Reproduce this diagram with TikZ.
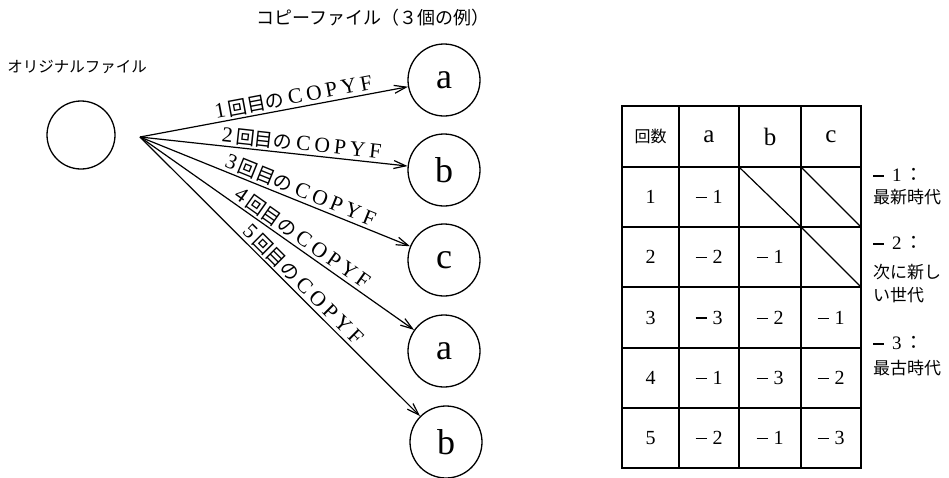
\documentclass[tikz,border=0pt]{standalone}
\usepackage{fontspec}
\setmainfont{Liberation Serif}
\newfontfamily\jp{Noto Sans CJK JP}
\usetikzlibrary{arrows.meta}

% label of one copy run: "n回目のCOPYF"
\newcommand\copylabel[1]{#1\hspace{3pt}{\jp\fontsize{19}{19}\selectfont 回目の}\hspace{4pt}C\hspace{4pt}O\hspace{4pt}P\hspace{4pt}Y\hspace{4pt}F}
% generation value such as "－1"
\newcommand\gen[1]{\rule[5.5pt]{11pt}{1.1pt}\hspace{6pt}#1}

\begin{document}
\begin{tikzpicture}[x=1pt,y=-1pt,
  file/.style={draw, circle, line width=1.3pt, minimum size=72pt, inner sep=0pt,
    font=\fontsize{36}{36}\selectfont},
  copyarrow/.style={line width=1.2pt, -{Straight Barb[length=12pt,width=8pt,line width=1.2pt]}},
  runlbl/.style={sloped, above, inner sep=2pt, font=\fontsize{21.5}{21.5}\selectfont},
  caption/.style={inner sep=0pt, font=\jp},
  tbl/.style={line width=1.5pt},
  cell/.style={inner sep=0pt, font=\fontsize{20}{20}\selectfont},
  head/.style={inner sep=0pt, font=\fontsize{25}{25}\selectfont},
  note/.style={anchor=west, inner sep=0pt, font=\fontsize{19}{19}\selectfont},
  notejp/.style={anchor=west, inner sep=0pt, font=\jp\fontsize{17}{17}\selectfont}
]
\useasboundingbox (0,0) rectangle (949,477);

% captions
\node[caption, font=\jp\fontsize{18}{18}\selectfont] (copycap) at (373,18) {コピーファイル（３個の例）};
\node[caption, font=\jp\fontsize{15.5}{15.5}\selectfont] (origcap) at (77,67) {オリジナルファイル};

% original and copy files
\node[file, minimum size=68pt] (orig) at (81,135) {};
\coordinate (src) at (140,137);
\node[file] (a1) at (444,80) {a};
\node[file] (b1) at (444,170) {b};
\node[file] (c1) at (444,260) {c};
\node[file] (a2) at (444,351) {a};
\node[file] (b2) at (446,442) {b};

% copy runs
\draw[copyarrow] (src) -- node[runlbl, pos=0.58] {\copylabel{1}} (a1);
\draw[copyarrow] (src) -- node[runlbl, pos=0.60] {\copylabel{2}} (b1);
\draw[copyarrow] (src) -- node[runlbl, pos=0.58] {\copylabel{3}} (c1);
\draw[copyarrow] (src) -- node[runlbl, pos=0.57] {\copylabel{4}} (a2);
\draw[copyarrow] (src) -- node[runlbl, pos=0.555] {\copylabel{5}} (b2);

% generation table
\draw[tbl] (622,106) rectangle (861,468);
\foreach \x in {679,739,801} \draw[tbl] (\x,106) -- (\x,468);
\foreach \y in {167,227,287,348,408} \draw[tbl] (622,\y) -- (861,\y);
\draw[line width=1.2pt] (739,167) -- (801,227);
\draw[line width=1.2pt] (801,167) -- (861,227);
\draw[line width=1.2pt] (801,227) -- (861,287);

\node[cell, font=\jp\fontsize{16}{16}\selectfont] (h0) at (650.5,136.5) {回数};
\node[head] (ha) at (709,136.5) {a};
\node[head] (hb) at (770,136.5) {b};
\node[head] (hc) at (831,136.5) {c};

\node[cell] (r1) at (650.5,197) {1};
\node[cell] (r1a) at (709,197) {\gen{1}};

\node[cell] (r2) at (650.5,257) {2};
\node[cell] (r2a) at (709,257) {\gen{2}};
\node[cell] (r2b) at (770,257) {\gen{1}};

\node[cell] (r3) at (650.5,317.5) {3};
\node[cell] (r3a) at (709,317.5) {\gen{3}};
\node[cell] (r3b) at (770,317.5) {\gen{2}};
\node[cell] (r3c) at (831,317.5) {\gen{1}};

\node[cell] (r4) at (650.5,378) {4};
\node[cell] (r4a) at (709,378) {\gen{1}};
\node[cell] (r4b) at (770,378) {\gen{3}};
\node[cell] (r4c) at (831,378) {\gen{2}};

\node[cell] (r5) at (650.5,438) {5};
\node[cell] (r5a) at (709,438) {\gen{2}};
\node[cell] (r5b) at (770,438) {\gen{1}};
\node[cell] (r5c) at (831,438) {\gen{3}};

% legend of generation values
\node[note] (n1) at (873,175) {\rule[5pt]{11pt}{1.1pt}\hspace{8pt}1\hspace{3pt}{\jp ：}};
\node[notejp] (n1t) at (873,197) {最新時代};
\node[note] (n2) at (873,243) {\rule[5pt]{11pt}{1.1pt}\hspace{8pt}2\hspace{3pt}{\jp ：}};
\node[notejp] (n2t) at (873,272) {次に新し};
\node[notejp] (n2u) at (873,295) {い世代};
\node[note] (n3) at (873,343) {\rule[5pt]{11pt}{1.1pt}\hspace{8pt}3\hspace{3pt}{\jp ：}};
\node[notejp] (n3t) at (873,368) {最古時代};
\end{tikzpicture}
\end{document}
